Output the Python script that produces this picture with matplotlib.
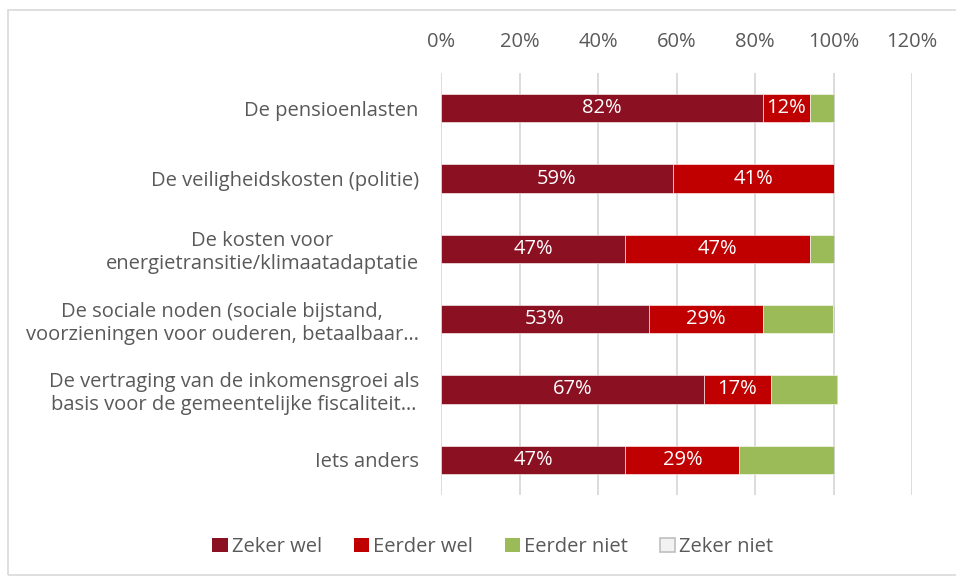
import matplotlib.pyplot as plt
from matplotlib.patches import Rectangle

categories = [
    "De pensioenlasten",
    "De veiligheidskosten (politie)",
    "De kosten voor\nenergietransitie/klimaatadaptatie",
    "De sociale noden (sociale bijstand,\nvoorzieningen voor ouderen, betaalbaar…",
    "De vertraging van de inkomensgroei als\nbasis voor de gemeentelijke fiscaliteit…",
    "Iets anders",
]
series_names = ["Zeker wel", "Eerder wel", "Eerder niet", "Zeker niet"]
zeker_wel = [82, 59, 47, 53, 67, 47]
eerder_wel = [12, 41, 47, 29, 17, 29]
eerder_niet = [6, 0, 6, 18, 17, 24]
zeker_niet = [0, 0, 0, 0, 0, 0]
x_ticks = [0, 20, 40, 60, 80, 100, 120]

colors = ["#8B1022", "#C00000", "#9BBB59", "#F2F2F2"]
text_grey = "#595959"
font = "Open Sans"
fs = 14.5

fig = plt.figure(figsize=(9.56, 5.8), dpi=100)
fig.patch.set_facecolor("white")
ax = fig.add_axes([441 / 956, 1 - 495 / 580, (912 - 441) / 956, (495 - 73) / 580])

# chart border
fig.patches.append(Rectangle((8 / 956, 5 / 580), 1.2, 1 - 15 / 580, transform=fig.transFigure,
                             fill=False, edgecolor="#D9D9D9", linewidth=1.2))

ypos = list(range(len(categories)))
left = [0] * len(categories)
all_series = [zeker_wel, eerder_wel, eerder_niet, zeker_niet]
for i, (name, vals) in enumerate(zip(series_names, all_series)):
    edge = "#BFBFBF" if i == 3 else "white"
    ax.barh(ypos, vals, left=left, height=0.4, color=colors[i], edgecolor=edge,
            linewidth=0.4, label=name, zorder=3)
    if i < 2:
        for y, l, v in zip(ypos, left, vals):
            if v > 0:
                ax.text(l + v / 2, y, f"{v}%", ha="center", va="center", color="white",
                        fontsize=fs, family=font, zorder=4)
    left = [a + b for a, b in zip(left, vals)]

ax.set_ylim(len(categories) - 0.5, -0.5)
ax.set_xlim(0, 120)
ax.set_xticks(x_ticks)
ax.set_xticklabels([f"{t}%" for t in x_ticks], family=font, fontsize=fs, color=text_grey)
ax.xaxis.tick_top()
ax.tick_params(axis="x", length=0, pad=15)
ax.set_yticks(ypos)
ax.set_yticklabels(categories, family=font, fontsize=fs, color=text_grey, multialignment="center")
ax.tick_params(axis="y", length=0, pad=16)
ax.grid(axis="x", color="#D9D9D9", linewidth=1.3, zorder=0)
for s in ax.spines.values():
    s.set_visible(False)

leg = fig.legend(loc="center", bbox_to_anchor=(493 / 956, 1 - 547 / 580), ncol=4, frameon=False,
                 prop={"family": font, "size": fs}, handlelength=0.75, handleheight=0.75,
                 handletextpad=0.2, columnspacing=1.6)
for t in leg.get_texts():
    t.set_color(text_grey)
for h in leg.legend_handles:
    h.set_linewidth(0)
leg.legend_handles[3].set_linewidth(1.2)

fig.savefig("out.png", dpi=100, facecolor="white")
plt.close(fig)
